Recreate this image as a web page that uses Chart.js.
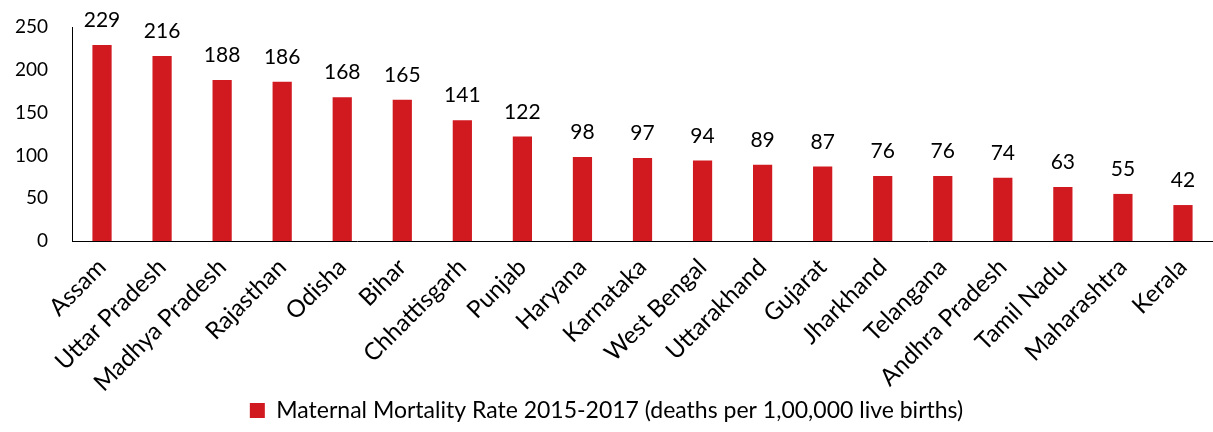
<!DOCTYPE html>
<html>
<head>
<meta charset="utf-8">
<script src="https://cdn.jsdelivr.net/npm/chart.js@4"></script>
<style>
  html, body { margin: 0; padding: 0; background: #fff; }
  #wrap { width: 1213px; height: 432px; }
</style>
</head>
<body>
<div id="wrap"><canvas id="mmrChart"></canvas></div>
<script>
const states = ['Assam', 'Uttar Pradesh', 'Madhya Pradesh', 'Rajasthan', 'Odisha', 'Bihar',
  'Chhattisgarh', 'Punjab', 'Haryana', 'Karnataka', 'West Bengal', 'Uttarakhand', 'Gujarat',
  'Jharkhand', 'Telangana', 'Andhra Pradesh', 'Tamil Nadu', 'Maharashtra', 'Kerala'];
const mmrValues = [229, 216, 188, 186, 168, 165, 141, 122, 98, 97, 94, 89, 87, 76, 76, 74, 63, 55, 42];
const yTicks = [0, 50, 100, 150, 200, 250];
const seriesLabel = 'Maternal Mortality Rate 2015-2017 (deaths per 1,00,000 live births)';

const FONT = 'Lato, "Open Sans", sans-serif';

// Value labels above each bar
const valueLabels = {
  id: 'valueLabels',
  afterDatasetsDraw(chart) {
    const ctx = chart.ctx;
    const meta = chart.getDatasetMeta(0);
    ctx.save();
    ctx.font = '21px ' + FONT;
    ctx.fillStyle = '#000';
    ctx.textAlign = 'center';
    ctx.textBaseline = 'alphabetic';
    meta.data.forEach((bar, i) => {
      ctx.fillText(mmrValues[i], bar.x, bar.y - 18);
    });
    ctx.restore();
  }
};

new Chart(document.getElementById('mmrChart'), {
  type: 'bar',
  data: {
    labels: states,
    datasets: [{
      label: seriesLabel,
      data: mmrValues,
      backgroundColor: '#d11920',
      borderWidth: 0,
      barPercentage: 0.32,
      categoryPercentage: 1
    }]
  },
  options: {
    responsive: true,
    maintainAspectRatio: false,
    animation: false,
    layout: { padding: { top: 27, right: 0, left: 0, bottom: 0 } },
    plugins: {
      legend: {
        position: 'bottom',
        labels: {
          color: '#000',
          font: { family: FONT, size: 23 },
          boxWidth: 15,
          boxHeight: 15,
          padding: 8
        }
      },
      tooltip: { enabled: false }
    },
    scales: {
      x: {
        grid: { display: false },
        border: { display: true, color: '#000', width: 1 },
        afterFit(axis) {
          axis.paddingLeft = 0; axis.paddingRight = 0;
          axis.height = 150;
        },
        ticks: {
          color: '#000',
          font: { family: FONT, size: 24 },
          minRotation: 45,
          maxRotation: 45,
          autoSkip: false,
          padding: 4
        }
      },
      y: {
        min: 0,
        max: 250,
        afterBuildTicks(axis) { axis.ticks = yTicks.map(v => ({ value: v })); },
        afterFit(axis) { axis.width = 72; axis.paddingTop = 0; axis.paddingBottom = 0; },
        grid: { display: false, drawTicks: false },
        border: { display: true, color: '#000', width: 1 },
        ticks: {
          color: '#000',
          font: { family: FONT, size: 19 },
          padding: 24
        }
      }
    }
  },
  plugins: [valueLabels]
});
</script>
</body>
</html>
